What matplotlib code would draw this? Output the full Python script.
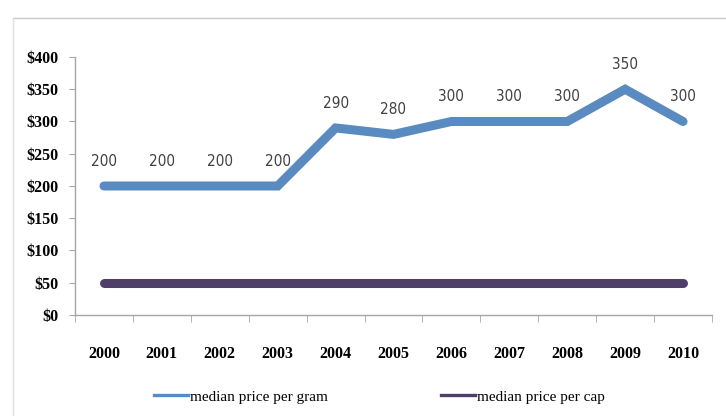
import numpy as np
import matplotlib.pyplot as plt
from matplotlib.lines import Line2D

# data
years = ['2000', '2001', '2002', '2003', '2004', '2005', '2006', '2007', '2008', '2009', '2010']
price_gram = [200, 200, 200, 200, 290, 280, 300, 300, 300, 350, 300]
price_cap = [50, 50, 50, 50, 50, 50, 50, 50, 50, 50, 50]
y_ticks = [0, 50, 100, 150, 200, 250, 300, 350, 400]

BLUE = '#5a8bc0'
PURPLE = '#4f3e68'
GRAY = '#a6a6a6'

fig = plt.figure(figsize=(7.26, 4.16), dpi=100)
ax = fig.add_axes([0.1033, 0.2428, 0.8774, 0.6202])

x = np.arange(len(years))
ax.plot(x, price_gram, color=BLUE, lw=6.5, solid_capstyle='round', solid_joinstyle='miter')
ax.plot(x, price_cap, color=PURPLE, lw=6.5, solid_capstyle='round')

# data labels above the blue line
for xi, v in zip(x, price_gram):
    ax.annotate(str(v), (xi, v), xytext=(0, 12.5), textcoords='offset points',
                ha='center', va='bottom', fontsize=11, color='#404040',
                family='DejaVu Sans', fontstretch='condensed')

ax.set_xlim(-0.5, len(years) - 0.5)
ax.set_ylim(0, 400)

# y axis
ax.set_yticks(y_ticks)
ax.set_yticklabels(['$%d' % t for t in y_ticks], family='Liberation Serif',
                   fontweight='bold', fontsize=11.5)
ax.tick_params(axis='y', length=4, color=GRAY, pad=8, direction='out')

# x axis: labels at centers, tick marks between categories
ax.set_xticks(x)
ax.set_xticklabels(years, family='Liberation Serif', fontweight='bold', fontsize=11.5)
ax.tick_params(axis='x', which='major', length=0, pad=22)
ax.set_xticks(np.arange(-0.5, len(years)), minor=True)
ax.tick_params(axis='x', which='minor', length=5, color=GRAY, direction='out')

for s in ['top', 'right']:
    ax.spines[s].set_visible(False)
for s in ['left', 'bottom']:
    ax.spines[s].set_color(GRAY)
    ax.spines[s].set_linewidth(1.0)

# legend
handles = [Line2D([], [], color=BLUE, lw=2.4),
           Line2D([], [], color=PURPLE, lw=2.4)]
fig.legend(handles, ['median price per gram', 'median price per cap'],
           loc='center', bbox_to_anchor=(0.523, 0.046), ncol=2, frameon=False,
           prop={'family': 'Liberation Serif', 'size': 11},
           handlelength=2.2, handletextpad=0.15, columnspacing=7.4)

# outer chart frame
fig.add_artist(Line2D([13 / 726, 1], [1 - 18 / 416, 1 - 18 / 416],
                      transform=fig.transFigure, color='#c8c8c8', lw=1))
fig.add_artist(Line2D([13 / 726, 13 / 726], [0, 1 - 18 / 416],
                      transform=fig.transFigure, color='#e0e0e0', lw=1))

fig.savefig('out.png', dpi=100)
